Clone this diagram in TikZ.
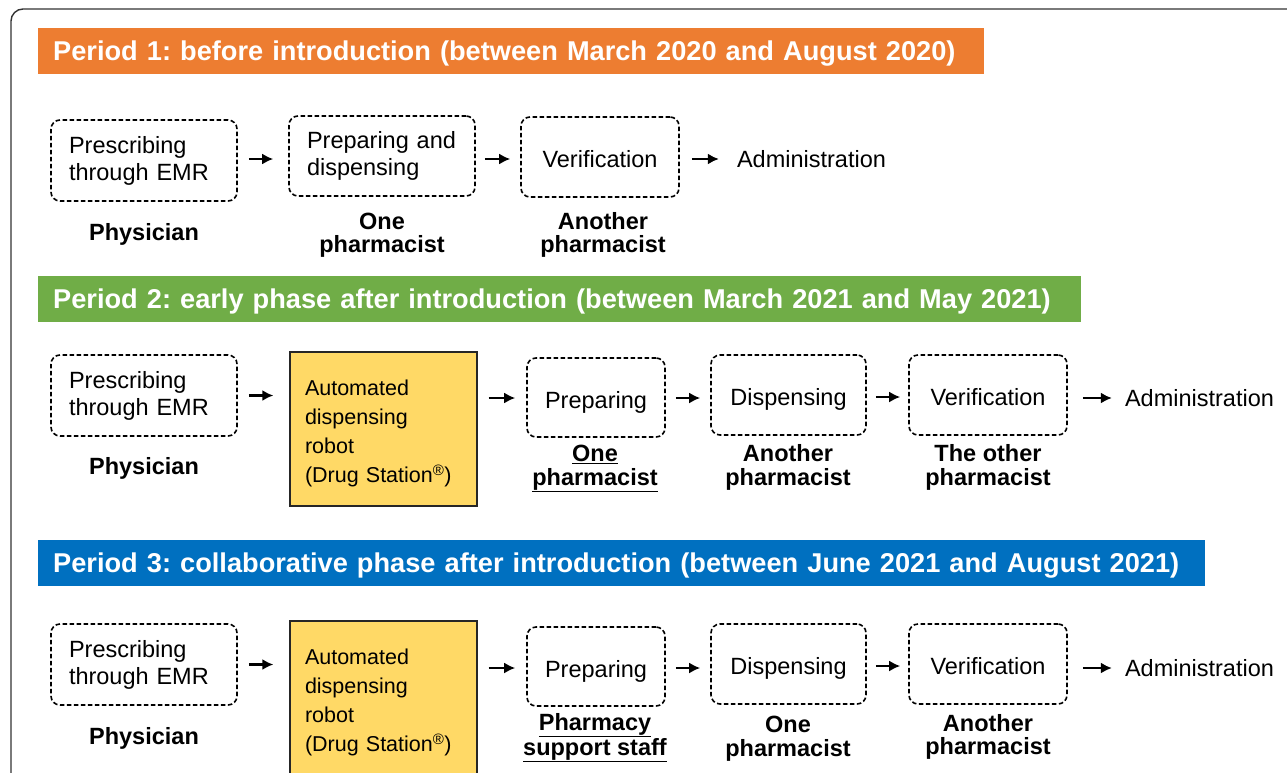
\documentclass[tikz,border=0pt]{standalone}
\usepackage{fontspec}
\setmainfont{Liberation Sans}
\frenchspacing
\usetikzlibrary{arrows.meta}
\definecolor{horange}{HTML}{ED7D31}
\definecolor{hgreen}{HTML}{70AD47}
\definecolor{hblue}{HTML}{0070C0}
\definecolor{robotyellow}{HTML}{FFD966}
\definecolor{framegray}{HTML}{333333}
\tikzset{
  header/.style={anchor=west, text=white, minimum height=46pt, inner xsep=15pt, inner ysep=0pt,
    text height=19.6pt, text depth=0pt,
    align=left, font=\fontsize{27.2}{30}\selectfont\bfseries},
  dbox/.style={draw, dash pattern=on 4.5pt off 2.5pt, line width=1.6pt, rounded corners=9pt,
    font=\fontsize{23.5}{27}\selectfont, inner ysep=0pt},
  dboxs/.style={dbox, text height=21pt, text depth=0pt},
  dboxl/.style={dbox, align=left, inner xsep=18pt},
  robot/.style={draw=black!85, fill=robotyellow, line width=1.3pt, align=left, inner xsep=15pt,
    text width=157pt, minimum height=154pt, font=\fontsize{21.5}{29}\selectfont},
  role/.style={align=center, inner sep=0pt, font=\fontsize{23.5}{23.5}\selectfont\bfseries},
  plain/.style={inner sep=0pt, font=\fontsize{23.5}{27}\selectfont},
  flow/.style={-{Latex[length=11pt,width=11pt]}, line width=2.1pt},
}
\newcommand{\robotstrut}{\rule{0pt}{25pt}}
\begin{document}
\begin{tikzpicture}[x=1pt,y=-1pt]
\useasboundingbox (0,0) rectangle (1287,772);
\begin{scope}
\clip (0,0) rectangle (1287,772);
\draw[framegray, line width=1.4pt, rounded corners=12pt] (11,9) rectangle (1330,820);

% ---------------- Period 1
\node[header, fill=horange, text width=916pt] (h1) at (38,51)
  {Period 1: before introduction (between March 2020 and August 2020)};
\node[dboxl, text width=150pt, minimum height=81pt] (p1a) at (144,160.5) {Prescribing\\through EMR};
\node[dboxl, text width=150pt, minimum height=80pt] (p1b) at (382,156) {Preparing and\\dispensing};
\node[dboxs, minimum width=158pt, minimum height=80pt] (p1c) at (600,157) {Verification};
\node[plain] (p1d) at (811.5,159) {Administration};
\node[role] (r1a) at (144,234.5) {Physician};
\node[role] (r1b) at (382,235) {One\\pharmacist};
\node[role] (r1c) at (603,235) {Another\\pharmacist};
\draw[flow, shorten <=11pt, shorten >=15pt] (p1a.east |- p1d.west) -- (p1b.west |- p1d.west);
\draw[flow, shorten <=9pt, shorten >=10pt] (p1b.east |- p1d.west) -- (p1c.west |- p1d.west);
\draw[flow, shorten <=12pt, shorten >=18pt] (p1c.east |- p1d.west) -- (p1d.west);

% ---------------- Period 2
\node[header, fill=hgreen, text width=1013pt] (h2) at (38,298.5)
  {Period 2: early phase after introduction (between March 2021 and May 2021)};
\node[dboxl, text width=150pt, minimum height=81pt] (p2a) at (144,395.5) {Prescribing\\through EMR};
\node[robot] (p2r) at (383.5,429) {\robotstrut Automated\\dispensing\\robot\\(Drug Station\textsuperscript{®})};
\node[dboxs, minimum width=138pt, minimum height=79pt] (p2b) at (596,397.5) {Preparing};
\node[dboxs, minimum width=155pt, minimum height=80pt] (p2c) at (788.5,395) {Dispensing};
\node[dboxs, minimum width=158pt, minimum height=80pt] (p2d) at (988,395) {Verification};
\node[plain] (p2e) at (1199.5,398) {Administration};
\node[role] (r2a) at (144,468.5) {Physician};
\node[role] (r2b) at (595,468.5) {\underline{One}\\\underline{pharmacist}};
\node[role] (r2c) at (788,467.5) {Another\\pharmacist};
\node[role] (r2d) at (988,467.5) {The other\\pharmacist};
\draw[flow, shorten <=11pt, shorten >=16pt] (p2a.east) -- (p2a.east -| p2r.west);
\draw[flow, shorten <=11pt, shorten >=11pt] (p2r.east |- p2e.west) -- (p2b.west |- p2e.west);
\draw[flow, shorten <=10pt, shorten >=10pt] (p2b.east |- p2e.west) -- (p2c.west |- p2e.west);
\draw[flow, shorten <=9pt, shorten >=8pt] (p2c.east |- 0,397) -- (p2d.west |- 0,397);
\draw[flow, shorten <=15pt, shorten >=13pt] (p2d.east |- p2e.west) -- (p2e.west);

% ---------------- Period 3
\node[header, fill=hblue, text width=1137pt] (h3) at (38,563)
  {Period 3: collaborative phase after introduction (between June 2021 and August 2021)};
\node[dboxl, text width=150pt, minimum height=81pt] (p3a) at (144,664.5) {Prescribing\\through EMR};
\node[robot] (p3r) at (383.5,698) {\robotstrut Automated\\dispensing\\robot\\(Drug Station\textsuperscript{®})};
\node[dboxs, minimum width=138pt, minimum height=79pt] (p3b) at (596,666.5) {Preparing};
\node[dboxs, minimum width=155pt, minimum height=80pt] (p3c) at (788.5,664) {Dispensing};
\node[dboxs, minimum width=158pt, minimum height=80pt] (p3d) at (988,664) {Verification};
\node[plain] (p3e) at (1199.5,668) {Administration};
\node[role] (r3a) at (144,738.5) {Physician};
\node[role] (r3b) at (595,737.5) {\underline{Pharmacy}\\\underline{support staff}};
\node[role] (r3c) at (788,738.5) {One\\pharmacist};
\node[role] (r3d) at (988,737) {Another\\pharmacist};
\draw[flow, shorten <=11pt, shorten >=16pt] (p3a.east) -- (p3a.east -| p3r.west);
\draw[flow, shorten <=11pt, shorten >=11pt] (p3r.east |- p3e.west) -- (p3b.west |- p3e.west);
\draw[flow, shorten <=10pt, shorten >=10pt] (p3b.east |- p3e.west) -- (p3c.west |- p3e.west);
\draw[flow, shorten <=9pt, shorten >=8pt] (p3c.east |- 0,666) -- (p3d.west |- 0,666);
\draw[flow, shorten <=15pt, shorten >=13pt] (p3d.east |- p3e.west) -- (p3e.west);
\end{scope}
\end{tikzpicture}
\end{document}
